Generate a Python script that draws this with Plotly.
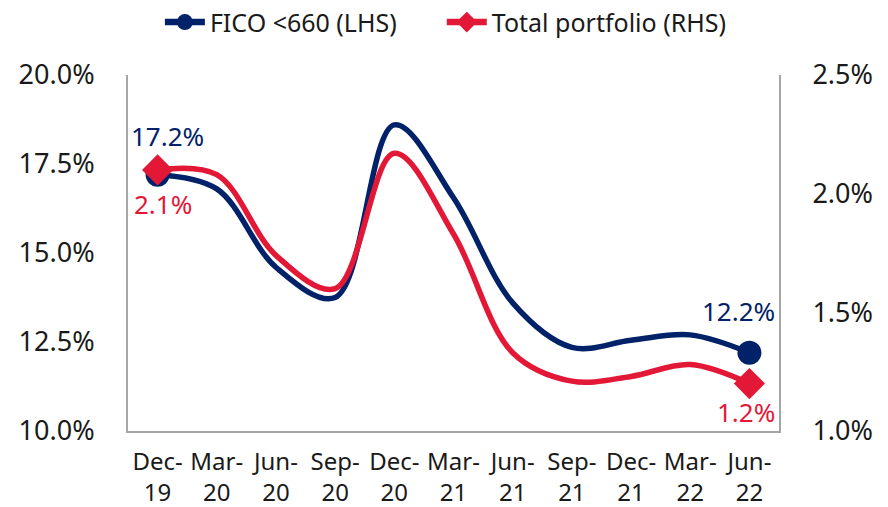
import plotly.graph_objects as go

# Quarter-end periods
periods = ["Dec-<br>19", "Mar-<br>20", "Jun-<br>20", "Sep-<br>20", "Dec-<br>20", "Mar-<br>21",
           "Jun-<br>21", "Sep-<br>21", "Dec-<br>21", "Mar-<br>22", "Jun-<br>22"]

# FICO <660 share (left axis, %)
fico_lt660 = [17.2, 16.8, 14.6, 13.75, 18.6, 16.55, 13.6, 12.35, 12.55, 12.7, 12.2]

# Total portfolio (right axis, %)
total_portfolio = [2.1, 2.08, 1.74, 1.60, 2.17, 1.83, 1.33, 1.21, 1.23, 1.28, 1.2]

left_ticks = [10.0, 12.5, 15.0, 17.5, 20.0]
right_ticks = [1.0, 1.5, 2.0, 2.5]

NAVY = "#012169"
RED = "#E31837"
AXIS_GREY = "#a6a6a6"
TEXT = "#1a1a1a"
FONT = "Noto Sans"

n = len(periods)
end_sizes = [24 if i in (0, n - 1) else 0 for i in range(n)]

fig = go.Figure()

fig.add_trace(go.Scatter(
    x=periods, y=fico_lt660, mode="lines+markers", yaxis="y",
    line=dict(color=NAVY, width=5.5, shape="spline", smoothing=1.0),
    marker=dict(color=NAVY, size=end_sizes, symbol="circle", opacity=1,
                line=dict(width=0)),
    showlegend=False, hoverinfo="skip",
))
fig.add_trace(go.Scatter(
    x=periods, y=total_portfolio, mode="lines+markers", yaxis="y2",
    line=dict(color=RED, width=5.5, shape="spline", smoothing=1.0),
    marker=dict(color=RED, size=end_sizes, symbol="diamond", opacity=1,
                line=dict(width=0)),
    showlegend=False, hoverinfo="skip",
))

# Legend entries, one legend box each
fig.add_trace(go.Scatter(
    x=[None], y=[None], mode="lines+markers", name="FICO <660 (LHS)", legend="legend",
    line=dict(color=NAVY, width=6.5),
    marker=dict(color=NAVY, size=22, symbol="circle", opacity=1, line=dict(width=0)),
))
fig.add_trace(go.Scatter(
    x=[None], y=[None], mode="lines+markers", name="Total portfolio (RHS)", yaxis="y2",
    legend="legend2",
    line=dict(color=RED, width=6.5),
    marker=dict(color=RED, size=22, symbol="diamond", opacity=1, line=dict(width=0)),
))

# End-point value labels
ann = []
for idx, xs, ys in ((0, 10, 39), (n - 1, -11, 42)):
    ann.append(dict(x=periods[idx], y=fico_lt660[idx], xref="x", yref="y",
                    text=f"{fico_lt660[idx]:.1f}%", showarrow=False, xshift=xs, yshift=ys,
                    font=dict(family=FONT, size=26, color=NAVY)))
for idx, xs, ys in ((0, 5, -34), (n - 1, -3, -28)):
    ann.append(dict(x=periods[idx], y=total_portfolio[idx], xref="x", yref="y2",
                    text=f"{total_portfolio[idx]:.1f}%", showarrow=False, xshift=xs, yshift=ys,
                    font=dict(family=FONT, size=26, color=RED)))

legend_style = dict(orientation="h", xanchor="left", y=1.148, yanchor="middle",
                    font=dict(family=FONT, size=25, color=TEXT), itemwidth=40,
                    bgcolor="rgba(0,0,0,0)")

fig.update_layout(
    width=888, height=507,
    margin=dict(l=128, r=109, t=75, b=76, autoexpand=False),
    paper_bgcolor="white", plot_bgcolor="white",
    font=dict(family=FONT, size=25, color=TEXT),
    showlegend=True,
    legend=dict(x=0.049, **legend_style),
    legend2=dict(x=0.482, **legend_style),
    xaxis=dict(type="category", range=[-0.5, n - 0.5], showline=True, linecolor=AXIS_GREY,
               linewidth=2, showgrid=False, zeroline=False, ticks="outside", ticklen=8,
               tickcolor="rgba(0,0,0,0)", tickangle=0, automargin=False,
               tickfont=dict(family=FONT, size=24, color=TEXT)),
    yaxis=dict(range=[10, 20], tickvals=left_ticks,
               ticktext=[f"{v:.1f}%" for v in left_ticks],
               showline=True, linecolor=AXIS_GREY, linewidth=2, showgrid=False,
               zeroline=False, ticks="outside", ticklen=26, tickcolor="rgba(0,0,0,0)",
               automargin=False, tickfont=dict(family=FONT, size=27, color=TEXT)),
    yaxis2=dict(range=[1.0, 2.5], tickvals=right_ticks,
                ticktext=[f"{v:.1f}%" for v in right_ticks],
                overlaying="y", side="right", showline=True, linecolor=AXIS_GREY,
                linewidth=2, showgrid=False, zeroline=False, ticks="outside", ticklen=26,
                tickcolor="rgba(0,0,0,0)", automargin=False,
                tickfont=dict(family=FONT, size=27, color=TEXT)),
    annotations=ann,
)

fig.write_html("out.html")
